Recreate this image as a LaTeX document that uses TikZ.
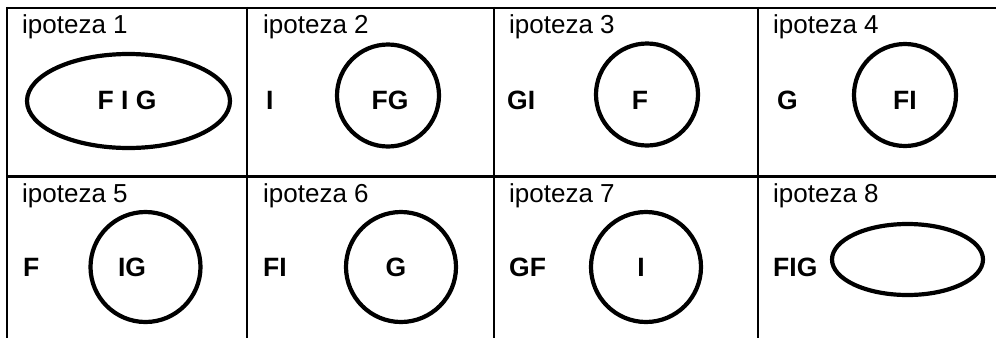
\documentclass[tikz,border=0pt]{standalone}
\usepackage{fontspec}
\setmainfont{Liberation Sans}
\usetikzlibrary{shapes.geometric}
\begin{document}
\begin{tikzpicture}[x=1pt,y=-1pt,
  gridline/.style={line width=2.4pt},
  ring/.style={draw, circle, line width=4.2pt, inner sep=0pt},
  oval/.style={draw, ellipse, line width=4.2pt, inner sep=0pt},
  title/.style={anchor=base west, inner sep=0pt, font=\fontsize{26}{30}\selectfont},
  lab/.style={inner sep=0pt, font=\fontsize{26.5}{30}\selectfont\bfseries},
  llab/.style={lab, anchor=west}]
\useasboundingbox (0,0) rectangle (996,338);
% grid
\coordinate (t0) at (7,8);   \coordinate (t1) at (996,8);
\coordinate (m0) at (7,176.5); \coordinate (m1) at (996,176.5);
\draw[gridline] (t0) -- (t1);
\draw[gridline] (m0) -- (m1);
\foreach \x/\n in {7/a,247/b,494/c,758/d}{
  \coordinate (v\n0) at (\x,6.8);
  \coordinate (v\n1) at (\x,338);
  \draw[gridline] (v\n0) -- (v\n1);
}
% titles
\node[title] (h1) at (22,33) {ipoteza 1};
\node[title] (h2) at (263,33) {ipoteza 2};
\node[title] (h3) at (509,33) {ipoteza 3};
\node[title] (h4) at (773,33) {ipoteza 4};
\node[title] (h5) at (22,202) {ipoteza 5};
\node[title] (h6) at (263,202) {ipoteza 6};
\node[title] (h7) at (509,202) {ipoteza 7};
\node[title] (h8) at (773,202) {ipoteza 8};
% row 1 shapes
\node[oval, minimum width=203pt, minimum height=94pt] (s1) at (128.5,101) {};
\node[ring, minimum size=102pt] (s2) at (388,95.5) {};
\node[ring, minimum size=102pt] (s3) at (647,94.5) {};
\node[ring, minimum size=102pt] (s4) at (905,95) {};
% row 2 shapes
\node[ring, minimum size=110pt] (s5) at (145.5,267) {};
\node[ring, minimum size=110pt] (s6) at (401,267) {};
\node[ring, minimum size=110pt] (s7) at (646,267) {};
\node[oval, minimum width=151pt, minimum height=71pt] (s8) at (907.5,259.5) {};
% labels row 1
\node[lab] (l1) at (127,100) {F I G};
\node[llab] (o2) at (266,100) {I};
\node[lab] (l2) at (390,100) {FG};
\node[llab] (o3) at (507,100) {GI};
\node[lab] (l3) at (640,100) {F};
\node[llab] (o4) at (777,100) {G};
\node[lab] (l4) at (905,100) {FI};
% labels row 2
\node[llab] (o5) at (23,267) {F};
\node[lab] (l5) at (132,267) {IG};
\node[llab] (o6) at (263,267) {FI};
\node[lab] (l6) at (396,267) {G};
\node[llab] (o7) at (509,267) {GF};
\node[lab] (l7) at (641,267) {I};
\node[llab] (o8) at (773,267) {FIG};
\end{tikzpicture}
\end{document}
